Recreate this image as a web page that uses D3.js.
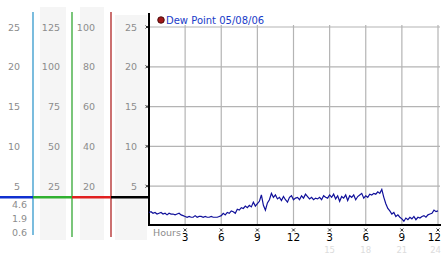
<!DOCTYPE html>
<html>
<head>
<meta charset="utf-8" />
<title>Dew Point</title>
<script src="https://d3js.org/d3.v7.min.js"></script>
<style>
  body { margin: 0; background: #fff; }
  text { font-family: "DejaVu Sans", Verdana, sans-serif; }
</style>
</head>
<body>
<svg></svg>
<script>
// dew point readings, one every 10 minutes from 0h to 24h
const dew = [
  1.7,1.8,1.6,1.7,1.5,1.6,1.7,1.5,1.6,1.4,1.6,1.5,1.5,1.4,1.5,1.6,1.4,1.3,
  1.2,1.1,1.2,1.1,1.1,1.3,1.1,1.2,1.2,1.1,1.2,1.1,1.1,1.2,1.1,1.1,1.1,1.2,
  1.3,1.6,1.4,1.7,1.6,1.9,1.8,1.6,2.1,2.0,2.3,2.2,2.5,2.3,2.6,2.4,3.0,2.5,
  2.8,3.1,3.9,2.6,2.0,2.9,3.3,4.1,3.6,3.9,3.4,3.6,3.2,3.7,3.3,3.0,3.6,3.8,
  3.3,3.5,3.6,3.3,3.8,3.5,4.0,3.7,3.4,3.6,3.3,3.5,3.4,3.6,3.3,3.8,3.6,3.5,
  3.9,3.6,4.0,3.4,3.8,3.1,3.7,3.5,3.9,3.2,3.8,3.6,3.9,3.3,3.7,3.9,4.1,3.5,
  3.8,3.6,4.0,3.9,4.1,4.0,4.3,4.1,4.6,3.6,2.8,2.2,1.9,1.5,1.7,1.2,1.4,1.1,
  0.9,0.6,1.0,0.8,1.1,0.9,1.2,0.8,1.1,1.0,1.2,1.3,1.1,1.4,1.5,1.6,2.0,1.8,1.9
]
const stepHours = 1/6

const yTicks = [5,10,15,20,25]
const col1Labels = ['5','10','15','20','25']
const col2Labels = ['25','50','75','100','125']
const col3Labels = ['20','40','60','80','100']
const col4Labels = ['5','10','15','20','25']
const hourTicks = [3,6,9,12,15,18,21,24]
const hourLabels = ['3','6','9','12','3','6','9','12']
const faintHours = [15,18,21,24]
const statLabels = ['4.6','1.9','0.6']   // max, current, min
const markerValue = 3.6
const legendText = 'Dew Point 05/08/06'

const W = 442, H = 253
const svg = d3.select('svg').attr('width', W).attr('height', H)

const y = d3.scaleLinear().domain([0,25]).range([226,27])
const x = d3.scaleLinear().domain([0,24]).range([149,438])

// grey column bands
const bands = [[40,66,7],[80,104,7],[115,147,15]]
svg.selectAll('.band').data(bands).enter().append('rect')
  .attr('x', d => d[0]).attr('y', d => d[2])
  .attr('width', d => d[1]-d[0]).attr('height', d => 240-d[2])
  .attr('fill', '#f5f5f5')

// grid
svg.append('g').selectAll('line').data(yTicks).enter().append('line')
  .attr('x1', 149).attr('x2', 440)
  .attr('y1', d => y(d)).attr('y2', d => y(d))
  .attr('stroke', '#b4b4b4').attr('stroke-width', 1.2)
svg.append('g').selectAll('line').data(hourTicks).enter().append('line')
  .attr('x1', d => x(d)).attr('x2', d => x(d))
  .attr('y1', 25).attr('y2', 224)
  .attr('stroke', '#b4b4b4').attr('stroke-width', 1.2)

// column labels
function colLabels(labels, right) {
  svg.append('g').selectAll('text').data(labels).enter().append('text')
    .attr('x', right).attr('y', (d,i) => y(yTicks[i]) + 3.5)
    .attr('text-anchor', 'end')
    .attr('font-size', 9.5).attr('fill', '#8c8c8c')
    .text(d => d)
}
colLabels(col1Labels, 20)
colLabels(col2Labels, 60)
colLabels(col3Labels, 95)
colLabels(col4Labels, 137)

svg.append('g').selectAll('text').data(statLabels).enter().append('text')
  .attr('x', 27).attr('y', (d,i) => 208 + i*14)
  .attr('text-anchor', 'end')
  .attr('font-size', 9.5).attr('fill', '#8c8c8c')
  .text(d => d)

// vertical column lines
const vlines = [[33,235,'#3399cc'],[72,237,'#33a833'],[111,237,'#b02424']]
svg.selectAll('.vl').data(vlines).enter().append('line')
  .attr('x1', d => d[0]).attr('x2', d => d[0])
  .attr('y1', 12).attr('y2', d => d[1])
  .attr('stroke', d => d[2]).attr('stroke-width', 1.3)

// marker line across the columns
const segs = [[0,33,'#1030d0'],[33,72,'#30b030'],[72,111,'#e02020'],[111,149,'#000']]
svg.selectAll('.seg').data(segs).enter().append('line')
  .attr('x1', d => d[0]).attr('x2', d => d[1])
  .attr('y1', y(markerValue)).attr('y2', y(markerValue))
  .attr('stroke', d => d[2]).attr('stroke-width', 2.5)

// axes
svg.append('line').attr('x1', 149).attr('x2', 149).attr('y1', 13).attr('y2', 225)
  .attr('stroke', '#000').attr('stroke-width', 2)
svg.append('line').attr('x1', 148).attr('x2', 441).attr('y1', y(0)-1).attr('y2', y(0)-1)
  .attr('stroke', '#000').attr('stroke-width', 2)

// little x tick marks
const cross = 'M-1.5,-1.5L1.5,1.5M1.5,-1.5L-1.5,1.5'
svg.append('g').selectAll('path').data(yTicks).enter().append('path')
  .attr('transform', d => `translate(147,${y(d)})`)
  .attr('d', cross).attr('stroke', '#000').attr('stroke-width', 0.8)
svg.append('g').selectAll('path').data(hourTicks).enter().append('path')
  .attr('transform', d => `translate(${x(d)},230)`)
  .attr('d', cross).attr('stroke', '#000').attr('stroke-width', 0.8)

// hour labels (the last one is pulled in so it stays inside the picture)
const last = hourTicks.length - 1
svg.append('g').selectAll('text').data(hourLabels).enter().append('text')
  .attr('x', (d,i) => i === last ? W - 1 : x(hourTicks[i]))
  .attr('y', 241)
  .attr('text-anchor', (d,i) => i === last ? 'end' : 'middle')
  .attr('font-size', 10.5).attr('fill', '#000')
  .text(d => d)
svg.append('g').selectAll('text').data(faintHours).enter().append('text')
  .attr('x', (d,i) => i === faintHours.length - 1 ? W - 1 : x(d))
  .attr('y', 252.5)
  .attr('text-anchor', (d,i) => i === faintHours.length - 1 ? 'end' : 'middle')
  .attr('font-size', 8.5).attr('fill', '#dcdcdc')
  .text(d => d)
svg.append('text').attr('x', 153).attr('y', 236)
  .attr('font-size', 9.5).attr('fill', '#8c8c8c').text('Hours')

// data line
const line = d3.line()
  .x((d,i) => x(i*stepHours))
  .y(d => y(d))
svg.append('path').datum(dew)
  .attr('d', line)
  .attr('fill', 'none').attr('stroke', '#10109a').attr('stroke-width', 1.2)

// legend
svg.append('circle').attr('cx', 161).attr('cy', 20).attr('r', 3.3)
  .attr('fill', '#a01818').attr('stroke', '#300').attr('stroke-width', 0.8)
svg.append('text').attr('x', 166).attr('y', 24)
  .attr('font-size', 10).attr('fill', '#1a3cc8').text(legendText)
</script>
</body>
</html>
